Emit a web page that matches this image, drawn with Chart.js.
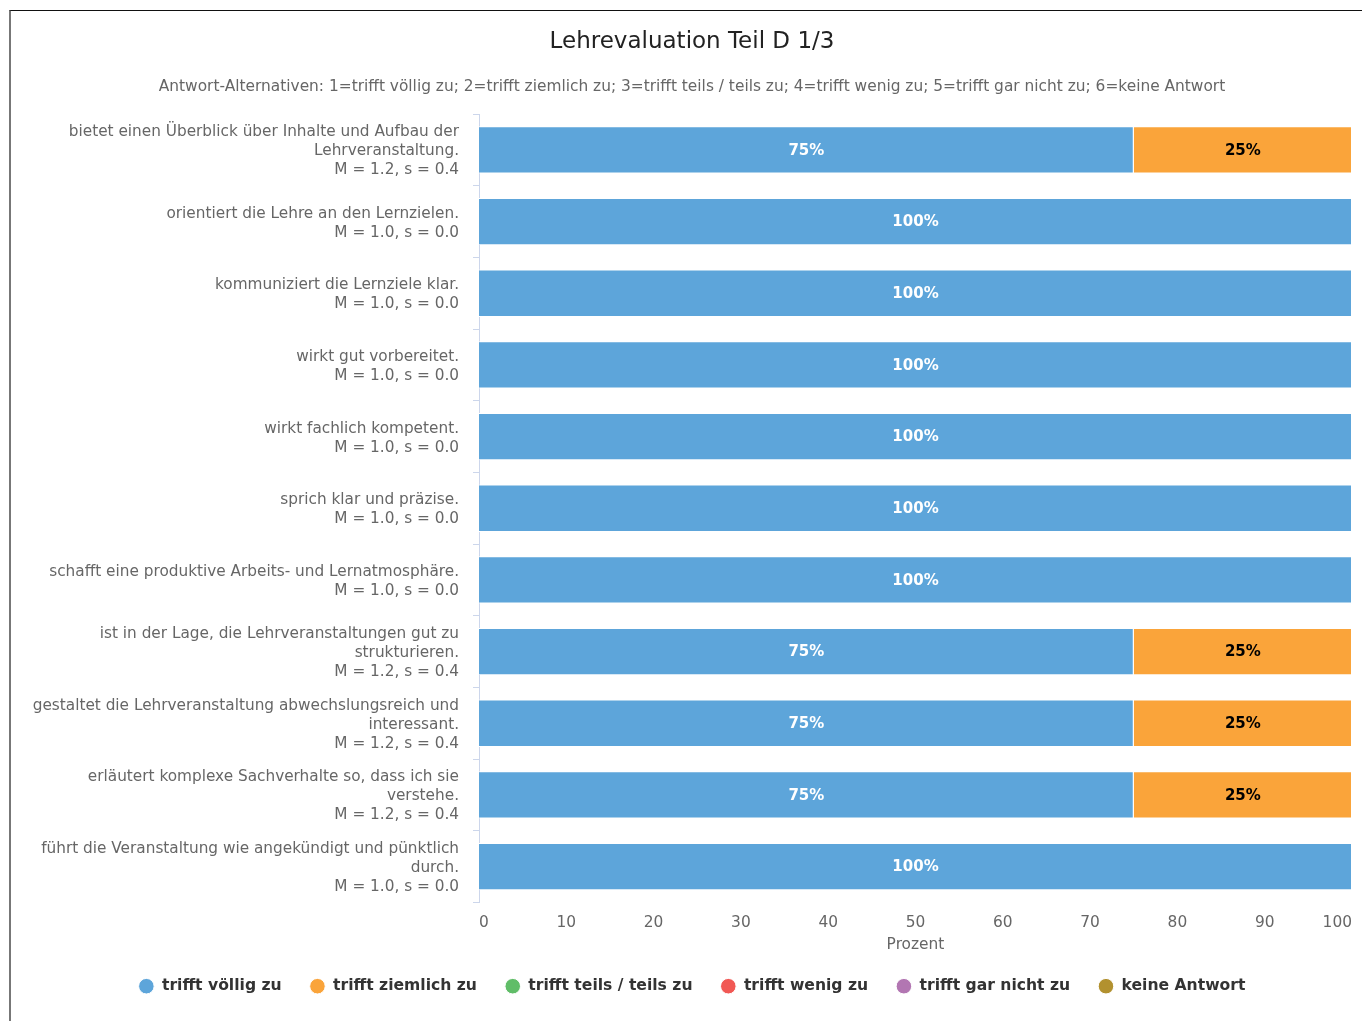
<!DOCTYPE html>
<html>
<head>
<meta charset="utf-8">
<script src="https://cdn.jsdelivr.net/npm/chart.js@4/dist/chart.umd.min.js"></script>
<style>
  html, body { margin: 0; padding: 0; background: #fff; overflow: hidden; }
  #frame {
    position: absolute; left: 9px; top: 10px;
    width: 1400px; height: 1100px;
    border-top: 1px solid #111;
    border-left: 2px solid #777;
  }
  #box { position: absolute; left: 11px; top: 11px; width: 1362px; height: 1010px; }
</style>
</head>
<body>
<div id="frame"></div>
<div id="box"><canvas id="myChart"></canvas></div>
<script>
const questions = [
  ["bietet einen Überblick über Inhalte und Aufbau der", "Lehrveranstaltung."],
  ["orientiert die Lehre an den Lernzielen."],
  ["kommuniziert die Lernziele klar."],
  ["wirkt gut vorbereitet."],
  ["wirkt fachlich kompetent."],
  ["sprich klar und präzise."],
  ["schafft eine produktive Arbeits- und Lernatmosphäre."],
  ["ist in der Lage, die Lehrveranstaltungen gut zu", "strukturieren."],
  ["gestaltet die Lehrveranstaltung abwechslungsreich und", "interessant."],
  ["erläutert komplexe Sachverhalte so, dass ich sie", "verstehe."],
  ["führt die Veranstaltung wie angekündigt und pünktlich", "durch."]
];
const means = ["1.2", "1.0", "1.0", "1.0", "1.0", "1.0", "1.0", "1.2", "1.2", "1.2", "1.0"];
const sds   = ["0.4", "0.0", "0.0", "0.0", "0.0", "0.0", "0.0", "0.4", "0.4", "0.4", "0.0"];

const seriesNames = ["trifft völlig zu", "trifft ziemlich zu", "trifft teils / teils zu", "trifft wenig zu", "trifft gar nicht zu", "keine Antwort"];
const seriesColors = ["#5DA5DA", "#FAA43A", "#60BD68", "#F15854", "#B276B2", "#B2912F"];

const voelligZu   = [75, 100, 100, 100, 100, 100, 100, 75, 75, 75, 100];
const ziemlichZu  = [25, 0, 0, 0, 0, 0, 0, 25, 25, 25, 0];
const teilsZu     = [0, 0, 0, 0, 0, 0, 0, 0, 0, 0, 0];
const wenigZu     = [0, 0, 0, 0, 0, 0, 0, 0, 0, 0, 0];
const garNichtZu  = [0, 0, 0, 0, 0, 0, 0, 0, 0, 0, 0];
const keineAntw   = [0, 0, 0, 0, 0, 0, 0, 0, 0, 0, 0];

const xTicks = [0, 10, 20, 30, 40, 50, 60, 70, 80, 90, 100];

const labels = questions.map((q, i) => q.concat(["M = " + means[i] + ", s = " + sds[i]]));
const allValues = [voelligZu, ziemlichZu, teilsZu, wenigZu, garNichtZu, keineAntw];

const FONT = "'DejaVu Sans', sans-serif";

// Prozent-Beschriftung in den Balken
const barLabels = {
  id: 'barLabels',
  afterDatasetsDraw(chart) {
    const c = chart.ctx;
    c.save();
    c.font = "bold 15px " + FONT;
    c.textAlign = 'center';
    c.textBaseline = 'middle';
    chart.data.datasets.forEach((ds, di) => {
      const meta = chart.getDatasetMeta(di);
      if (meta.hidden) return;
      meta.data.forEach((bar, i) => {
        const v = ds.data[i];
        if (!v) return;
        c.fillStyle = di === 0 ? '#ffffff' : '#000000';
        c.fillText(v + '%', (bar.x + bar.base) / 2, bar.y + 1);
      });
    });
    c.restore();
  }
};

const ctx = document.getElementById('myChart');

new Chart(ctx, {
  type: 'bar',
  data: {
    labels: labels,
    datasets: allValues.map((vals, i) => ({
      label: seriesNames[i],
      data: vals,
      backgroundColor: seriesColors[i],
      borderColor: '#ffffff',
      borderWidth: 1,
      borderSkipped: 'start',
      categoryPercentage: 1,
      barPercentage: 0.66
    }))
  },
  plugins: [barLabels],
  options: {
    indexAxis: 'y',
    responsive: true,
    maintainAspectRatio: false,
    animation: false,
    layout: { padding: { left: 21, right: 21, top: 0, bottom: 17 } },
    plugins: {
      title: {
        display: true,
        text: 'Lehrevaluation Teil D 1/3',
        color: '#222',
        font: { family: FONT, size: 23, weight: 'normal' },
        padding: { top: 17, bottom: 22.5 }
      },
      subtitle: {
        display: true,
        text: 'Antwort-Alternativen: 1=trifft völlig zu; 2=trifft ziemlich zu; 3=trifft teils / teils zu; 4=trifft wenig zu; 5=trifft gar nicht zu; 6=keine Antwort',
        color: '#666',
        font: { family: FONT, size: 15.4 },
        padding: { top: 0, bottom: 17.5 }
      },
      legend: {
        position: 'bottom',
        labels: {
          usePointStyle: true,
          pointStyle: 'circle',
          boxWidth: 16,
          boxHeight: 11,
          padding: 28,
          color: '#333',
          font: { family: FONT, size: 15.6, weight: 'bold' }
        }
      },
      tooltip: { enabled: false }
    },
    scales: {
      x: {
        stacked: true,
        min: 0,
        max: 100,
        afterBuildTicks(scale) { scale.ticks = xTicks.map(v => ({ value: v })); },
        grid: { display: false, drawTicks: true, tickLength: 5.5 },
        border: { display: false },
        ticks: {
          align: 'inner',
          padding: 5.5,
          color: '#666',
          font: { family: FONT, size: 15.4 }
        },
        title: {
          display: true,
          text: 'Prozent',
          color: '#666',
          font: { family: FONT, size: 15.4 },
          padding: { top: -1.5, bottom: -4 }
        }
      },
      y: {
        stacked: true,
        afterFit(scale) { scale.width = 447; },
        grid: {
          display: true,
          drawOnChartArea: false,
          drawTicks: true,
          tickLength: 6,
          offset: true,
          color: '#ccd6eb'
        },
        border: { display: true, color: '#ccd6eb' },
        ticks: {
          padding: 14,
          labelOffset: 1.5,
          color: '#666',
          autoSkip: false,
          font: { family: FONT, size: 15.3, lineHeight: '19px' }
        }
      }
    }
  }
});
</script>
</body>
</html>
